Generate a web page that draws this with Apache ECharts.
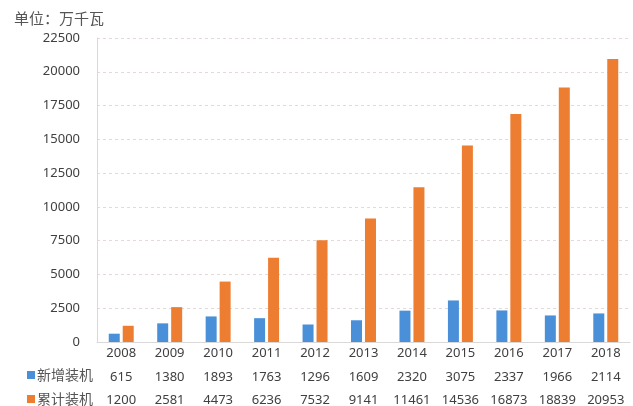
<!DOCTYPE html>
<html><head><meta charset="utf-8">
<script src="https://cdn.jsdelivr.net/npm/echarts@6/dist/echarts.min.js"></script>
<style>html,body{margin:0;padding:0;background:#fff}#c{width:633px;height:406px}</style>
</head><body><div id="c"></div>
<script>
const years = ['2008','2009','2010','2011','2012','2013','2014','2015','2016','2017','2018'];
const newCap = [615,1380,1893,1763,1296,1609,2320,3075,2337,1966,2114];
const totalCap = [1200,2581,4473,6236,7532,9141,11461,14536,16873,18839,20953];
const seriesNames = ['新增装机','累计装机'];
const unitText = '单位：万千瓦';

const chart = echarts.init(document.getElementById('c'));
const numFont = '"Noto Sans", "DejaVu Sans", sans-serif';
const cjkFont = '"Noto Sans CJK SC", sans-serif';
function mkLegend(name, top) {
  return {
    left: 22, top: top, itemWidth: 8, itemHeight: 8, icon: 'rect',
    textStyle: { fontSize: 14, color: '#555', fontFamily: cjkFont, padding: [0,0,0,-3] },
    data: [name]
  };
}
chart.setOption({
  animation: false,
  color: ['#4a90d9', '#ed7d31'],
  grid: { left: 97, right: 3, top: 38, bottom: 64, outerBoundsMode: 'none', containLabel: false },
  title: {
    text: unitText, left: 9, top: 6,
    textStyle: { fontSize: 15, fontWeight: 'normal', color: '#555', fontFamily: cjkFont }
  },
  legend: [ mkLegend(seriesNames[0], 363), mkLegend(seriesNames[1], 387) ],
  xAxis: {
    type: 'category', data: years,
    axisLine: { lineStyle: { color: '#d9d9d9' } },
    axisTick: { show: false },
    axisLabel: {
      margin: 0, interval: 0, hideOverlap: false,
      formatter: function (v, i) { return v + '\n' + newCap[i] + '\n' + totalCap[i]; },
      lineHeight: 23.5, fontSize: 13, color: '#404040', fontFamily: numFont
    }
  },
  yAxis: {
    type: 'value', min: 0, max: 22500, interval: 2500,
    axisLine: { show: true, lineStyle: { color: '#d9d9d9' } },
    axisLabel: { fontSize: 13, color: '#404040', margin: 17, fontFamily: numFont,
      formatter: function (v) { return String(v); } },
    splitLine: { lineStyle: { color: '#e3d9d9', type: [3, 3] } }
  },
  series: [
    { name: seriesNames[0], type: 'bar', data: newCap, barWidth: 11, barGap: '27%' },
    { name: seriesNames[1], type: 'bar', data: totalCap, barWidth: 11, barGap: '27%' }
  ]
});
</script></body></html>
